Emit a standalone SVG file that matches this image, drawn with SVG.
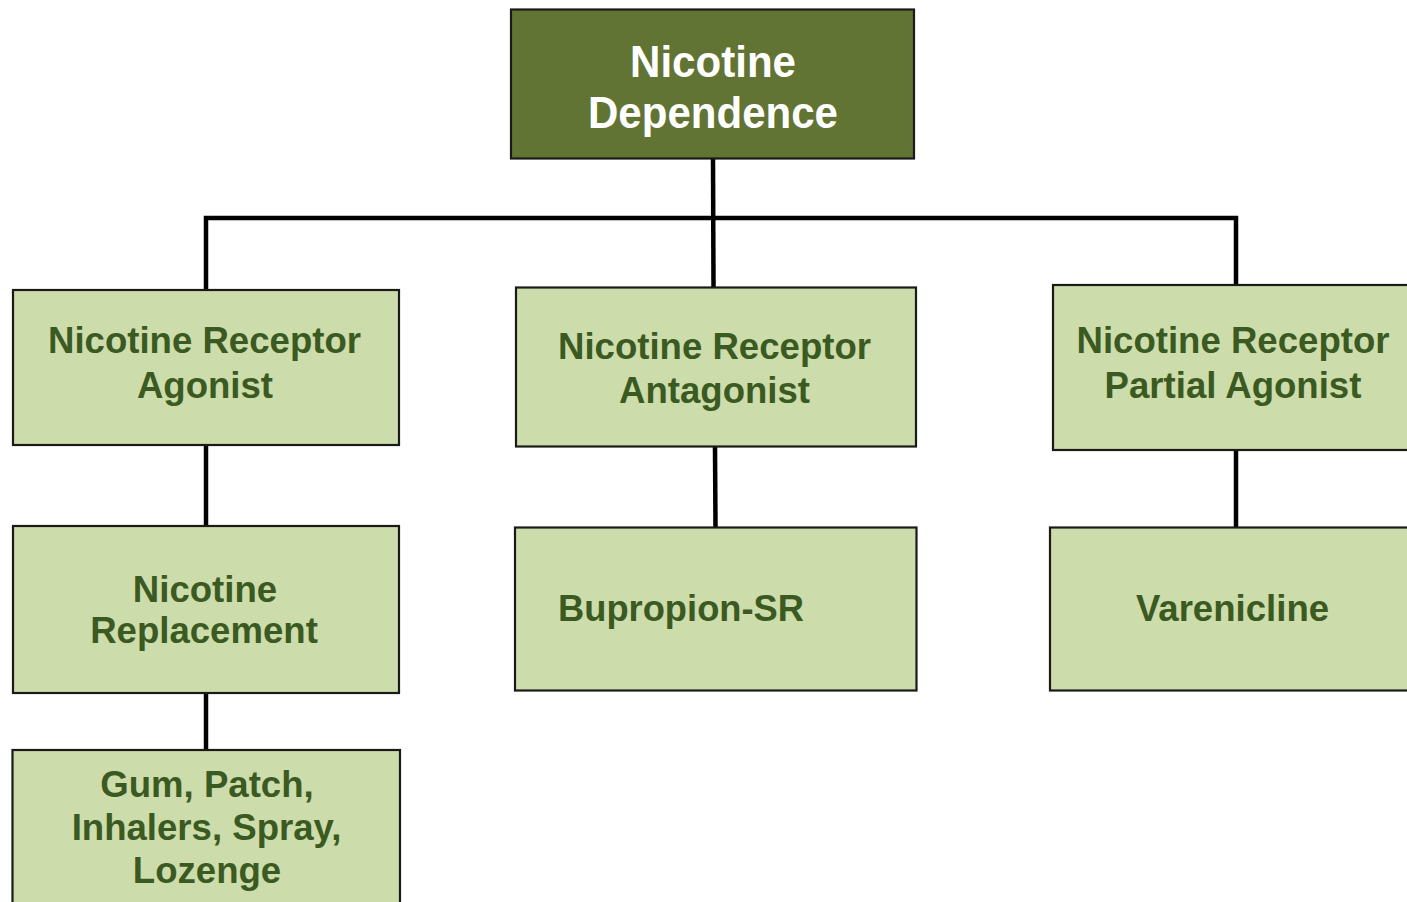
<svg xmlns="http://www.w3.org/2000/svg" width="1407" height="902" viewBox="0 0 1407 902">
<style>
  .box { fill: #CDDCAB; stroke: #1A1A1A; stroke-width: 2.2; }
  .root { fill: #627434; stroke: #1A1A1A; stroke-width: 2.2; }
  .lbl { font-family: "Liberation Sans", Arial, sans-serif; font-weight: bold; font-size: 36.6px; fill: #3B5A22; text-anchor: middle; }
  .rootlbl { font-family: "Liberation Sans", Arial, sans-serif; font-weight: bold; font-size: 44px; fill: #FFFFFF; text-anchor: middle; }
  .conn { stroke: #000000; stroke-width: 4.5; fill: none; stroke-linecap: butt; }
</style>
<rect width="1407" height="902" fill="#FFFFFF"/>
<g id="connectors">
  <line class="conn" x1="713" y1="158" x2="713.5" y2="287"/>
  <polyline class="conn" points="206,290 206,218 1236,218 1236,285" stroke-linejoin="miter"/>
  <line class="conn" x1="206" y1="445" x2="206" y2="526"/>
  <line class="conn" x1="206" y1="693" x2="206" y2="750"/>
  <line class="conn" x1="715" y1="447" x2="715.5" y2="527"/>
  <line class="conn" x1="1236" y1="450" x2="1236" y2="527"/>
</g>
<g id="node-root">
  <rect class="root" x="511" y="9.5" width="403" height="149"/>
  <text class="rootlbl" x="713" y="77" textLength="166" lengthAdjust="spacingAndGlyphs">Nicotine</text>
  <text class="rootlbl" x="713" y="128" textLength="250" lengthAdjust="spacingAndGlyphs">Dependence</text>
</g>
<g id="node-agonist">
  <rect class="box" x="13" y="290" width="386" height="155"/>
  <text class="lbl" x="204.5" y="353">Nicotine Receptor</text>
  <text class="lbl" x="205" y="398">Agonist</text>
</g>
<g id="node-replacement">
  <rect class="box" x="13" y="526" width="386" height="167"/>
  <text class="lbl" x="205" y="602">Nicotine</text>
  <text class="lbl" x="204" y="643">Replacement</text>
</g>
<g id="node-gum">
  <rect class="box" x="12.5" y="750" width="387.5" height="170"/>
  <text class="lbl" x="207" y="797">Gum, Patch,</text>
  <text class="lbl" x="206.5" y="840">Inhalers, Spray,</text>
  <text class="lbl" x="207" y="883">Lozenge</text>
</g>
<g id="node-antagonist">
  <rect class="box" x="516" y="287.5" width="400" height="159"/>
  <text class="lbl" x="714.5" y="359">Nicotine Receptor</text>
  <text class="lbl" x="714.5" y="402.5">Antagonist</text>
</g>
<g id="node-bupropion">
  <rect class="box" x="515" y="527.5" width="401.5" height="163"/>
  <text class="lbl" x="558" y="620.5" style="text-anchor:start" textLength="246" lengthAdjust="spacingAndGlyphs">Bupropion-SR</text>
</g>
<g id="node-partial">
  <rect class="box" x="1053" y="285" width="370" height="165"/>
  <text class="lbl" x="1233" y="353">Nicotine Receptor</text>
  <text class="lbl" x="1233" y="398">Partial Agonist</text>
</g>
<g id="node-varenicline">
  <rect class="box" x="1050" y="527.5" width="370" height="163"/>
  <text class="lbl" x="1232.5" y="620.5">Varenicline</text>
</g>
</svg>
